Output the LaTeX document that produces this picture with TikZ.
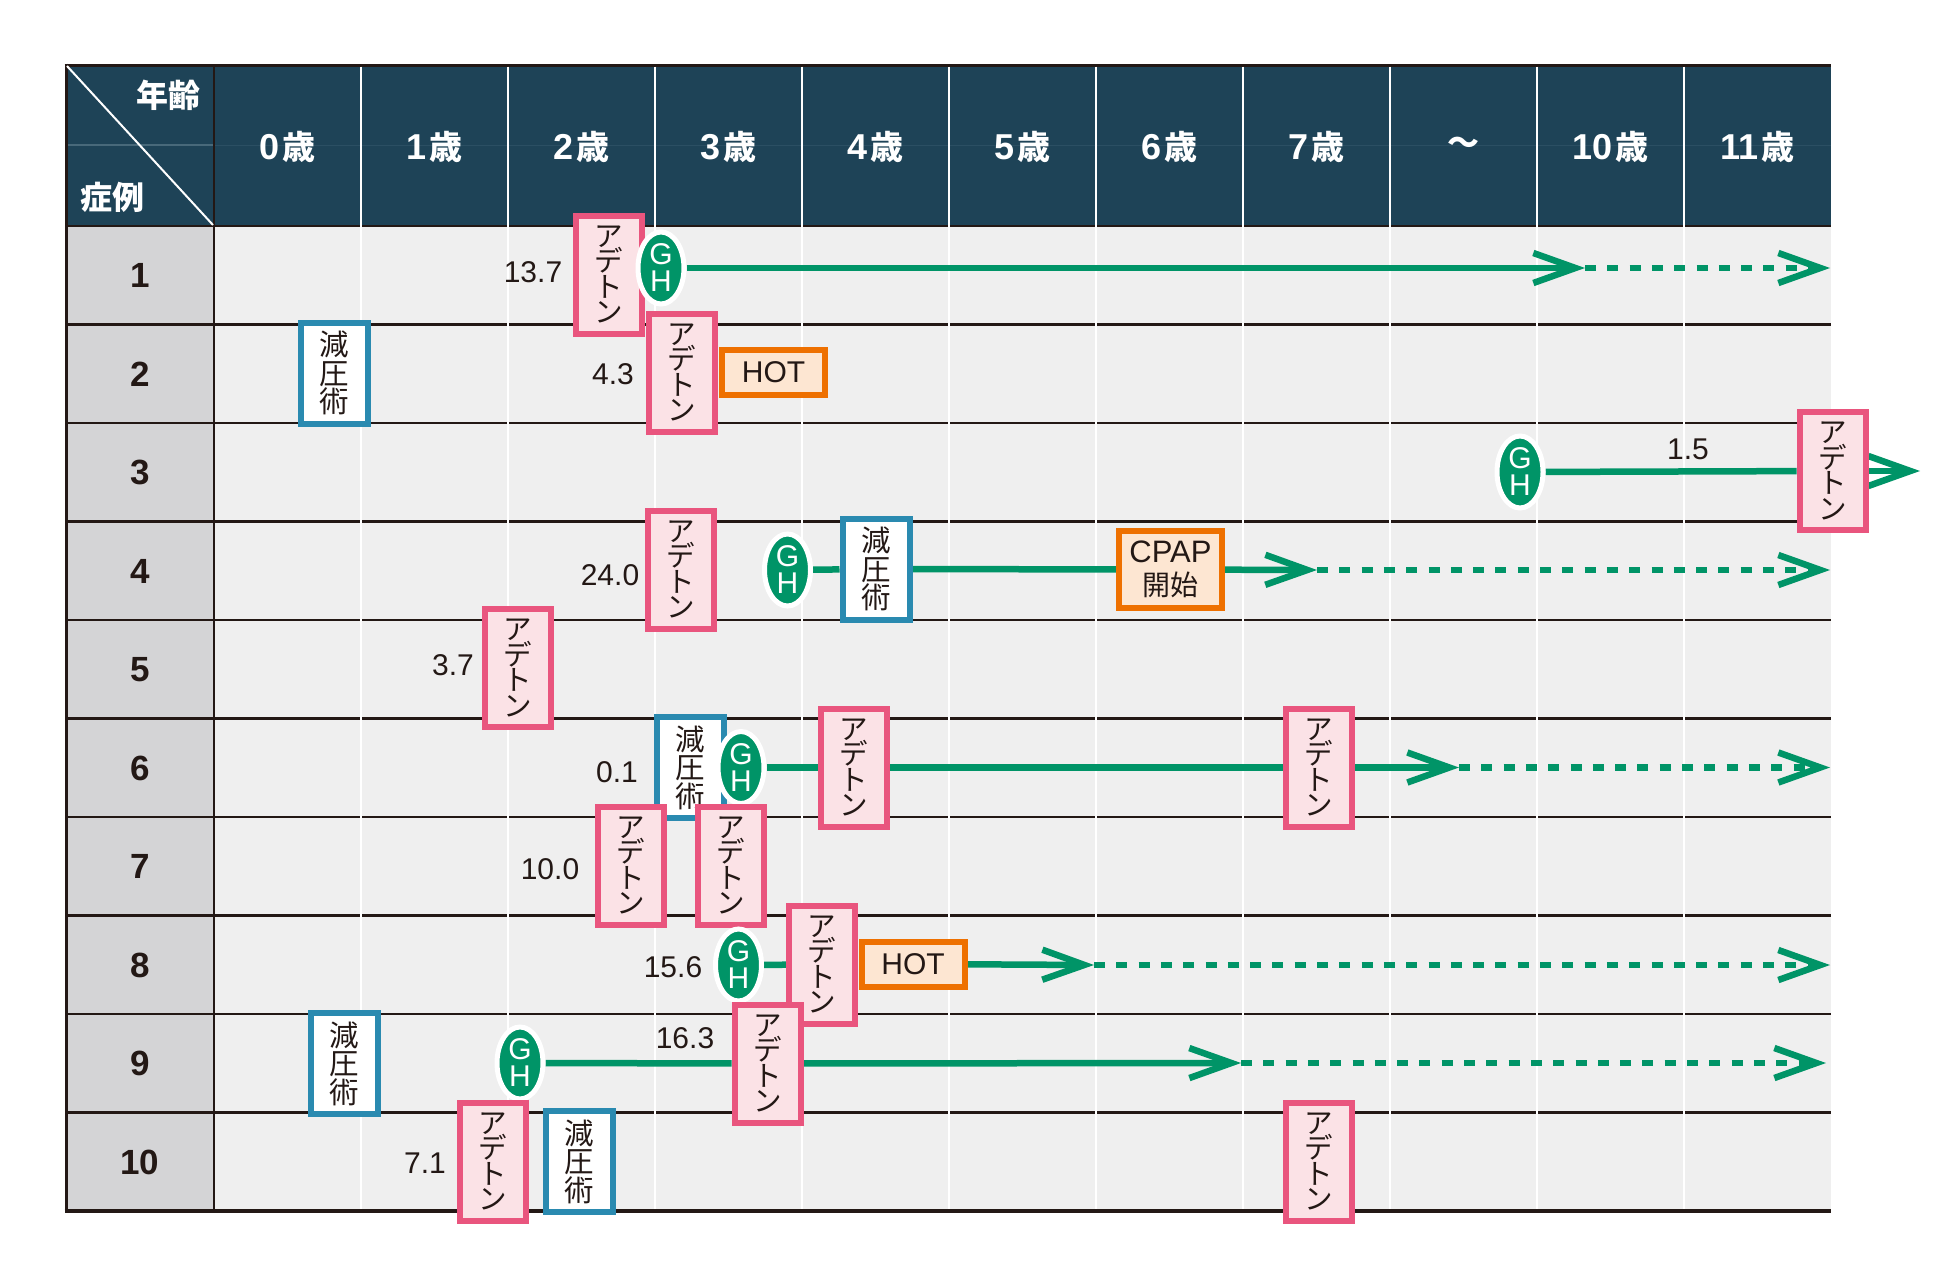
\documentclass[tikz,border=0pt]{standalone}
\usepackage{fontspec}
\setmainfont{Liberation Sans}
\newfontfamily\jp{Noto Sans CJK JP}
\usetikzlibrary{arrows.meta,shapes.geometric}
\definecolor{hdr}{HTML}{1E4357}
\definecolor{hdrline}{HTML}{48697A}
\definecolor{hdrfaint}{HTML}{2B4F63}
\definecolor{colgray}{HTML}{D4D4D6}
\definecolor{cellbg}{HTML}{EFEFEF}
\definecolor{dark}{HTML}{231815}
\definecolor{adpink}{HTML}{E9557E}
\definecolor{adfill}{HTML}{FBE2E6}
\definecolor{gblue}{HTML}{2A8AB0}
\definecolor{orng}{HTML}{EE7000}
\definecolor{orfill}{HTML}{FDE6D2}
\definecolor{ghgreen}{HTML}{009467}
\pgfdeclarelayer{tbl}
\pgfdeclarelayer{conn}
\pgfsetlayers{tbl,conn,main}
\newcommand\sai{{\jp\bfseries\fontsize{33}{33}\selectfont 歳}}
\newcommand\hd[1]{{\fontsize{36}{36}\selectfont\bfseries #1}\hspace{3pt}\sai}
\begin{document}
\begin{tikzpicture}[x=1pt,y=-1pt,
  pinkbox/.style={draw=adpink, fill=adfill, line width=6pt, minimum width=66pt, minimum height=118pt, inner sep=0pt, align=center, text=dark, font=\jp\fontsize{28.5}{25.5}\selectfont},
  bluebox/.style={draw=gblue, fill=white, line width=6pt, minimum width=67pt, minimum height=101pt, inner sep=0pt, align=center, text=dark, font=\jp\fontsize{29.5}{28.5}\selectfont},
  hotbox/.style={draw=orng, fill=orfill, line width=6pt, minimum width=103pt, minimum height=45pt, inner sep=0pt, text=dark, font=\fontsize{30}{30}\selectfont},
  cpapbox/.style={draw=orng, fill=orfill, line width=6pt, minimum width=103pt, minimum height=77pt, inner sep=0pt, align=center, text=dark, font=\fontsize{31}{33}\selectfont},
  gh/.style={ellipse, draw=white, fill=ghgreen, line width=5pt, minimum width=46pt, minimum height=72pt, inner sep=0pt, align=center, text=white, font=\fontsize{30}{27}\selectfont},
  num/.style={inner sep=0pt, text=dark, font=\fontsize{30}{30}\selectfont},
  rowlab/.style={inner sep=0pt, text=dark, font=\fontsize{35}{35}\selectfont\bfseries, anchor=base},
  collab/.style={inner sep=0pt, text=white, anchor=base},
  cornerlab/.style={inner sep=0pt, text=white, font=\jp\bfseries\fontsize{32}{32}\selectfont},
  gline/.style={draw=ghgreen, line width=6.5pt},
  garrow/.style={draw=ghgreen, line width=6.5pt, -{Straight Barb[length=42pt,width=30pt,line join=miter,line cap=butt]}},
  gdash/.style={garrow, dash pattern=on 11pt off 11.3pt}
]
\useasboundingbox (0,0) rectangle (1960,1277);
\begin{pgfonlayer}{tbl}
\fill[white] (0,0) rectangle (1960,1277);
\fill[hdr] (66,65) rectangle (1831,226);
\fill[colgray] (66,226) rectangle (214,1211);
\fill[cellbg] (214,226) rectangle (1831,1211);
\draw[hdrline, line width=1.2pt] (66,145) -- (214,145);
\draw[hdrfaint, line width=1pt] (214,145) -- (1831,145);
\foreach \y in {324.5,423,521.5,620,718.5,817,915.5,1014,1112.5}
  \draw[dark, line width=2.8pt] (66,\y) -- (1831,\y);
\draw[dark, line width=3pt] (64.5,65) -- (1831,65);
\draw[dark, line width=2.8pt] (66,226) -- (1831,226);
\draw[dark, line width=4pt] (64.5,1211) -- (1831,1211);
\draw[dark, line width=3pt] (66,63.5) -- (66,1213);
\draw[dark, line width=2.8pt] (214,65) -- (214,1211);
\foreach \x in {361,508,...,1684}
  \draw[white, line width=2pt] (\x,66.5) -- (\x,1209);
\draw[white, line width=2pt] (67,66) -- (213,225);
\end{pgfonlayer}

% header labels
\node[cornerlab] (age) at (168,95) {年齢};
\node[cornerlab] (case) at (112,197) {症例};
\node[collab] (h0) at (287.5,159) {\hd{0}};
\node[collab] (h1) at (434.5,159) {\hd{1}};
\node[collab] (h2) at (581.5,159) {\hd{2}};
\node[collab] (h3) at (728.5,159) {\hd{3}};
\node[collab] (h4) at (875.5,159) {\hd{4}};
\node[collab] (h5) at (1022.5,159) {\hd{5}};
\node[collab] (h6) at (1169.5,159) {\hd{6}};
\node[collab] (h7) at (1316.5,159) {\hd{7}};
\node[cornerlab] (h8) at (1463.5,146) {〜};
\node[collab] (h10) at (1610.5,159) {\hd{10}};
\node[collab] (h11) at (1757.5,159) {\hd{11}};

% row labels
\node[rowlab] (r1) at (140,287.75) {1};
\node[rowlab] (r2) at (140,386.25) {2};
\node[rowlab] (r3) at (140,484.75) {3};
\node[rowlab] (r4) at (140,583.25) {4};
\node[rowlab] (r5) at (140,681.75) {5};
\node[rowlab] (r6) at (140,780.25) {6};
\node[rowlab] (r7) at (140,878.75) {7};
\node[rowlab] (r8) at (140,977.25) {8};
\node[rowlab] (r9) at (140,1075.75) {9};
\node[rowlab] (r10) at (140,1174.25) {10};

% row 1
\node[num] (n1) at (533,272) {13.7};
\node[pinkbox] (pk1) at (608.5,274.5) {ア\\デ\\ト\\ン};
\node[gh] (gh1) at (661,268) {G\\H};
\coordinate (t1) at (1585,268);
\coordinate (e1) at (1830,268);

% row 2
\node[bluebox] (bl2) at (334,373) {減\\圧\\術};
\node[num] (n2) at (613,374) {4.3};
\node[pinkbox] (pk2) at (681.5,372.5) {ア\\デ\\ト\\ン};
\node[hotbox] (hot2) at (773.5,372.5) {HOT};

% row 3
\node[gh] (gh3) at (1520,472) {G\\H};
\node[num] (n3) at (1688,449) {1.5};
\node[pinkbox] (pk3) at (1832.5,471) {ア\\デ\\ト\\ン};
\coordinate (t3) at (1920,471);

% row 4
\node[num] (n4) at (610,575) {24.0};
\node[pinkbox] (pk4) at (681,569.5) {ア\\デ\\ト\\ン};
\node[gh] (gh4) at (787.5,570) {G\\H};
\node[bluebox] (bl4) at (876,569) {減\\圧\\術};
\node[cpapbox] (cp4) at (1170.5,569.5) {CPAP\\{\jp\fontsize{28}{28}\selectfont 開始}};
\coordinate (t4) at (1317,570);
\coordinate (e4) at (1830,570);

% row 5
\node[num] (n5) at (453,665) {3.7};
\node[pinkbox] (pk5) at (518,668) {ア\\デ\\ト\\ン};

% row 6
\node[num] (n6) at (617,772) {0.1};
\node[bluebox] (bl6) at (690.5,767.5) {減\\圧\\術};
\node[gh] (gh6) at (741,767.5) {G\\H};
\node[pinkbox] (pk6a) at (853.5,767.5) {ア\\デ\\ト\\ン};
\node[pinkbox] (pk6b) at (1319,767.5) {ア\\デ\\ト\\ン};
\coordinate (t6) at (1459,767.5);
\coordinate (e6) at (1830,767.5);

% row 7
\node[num] (n7) at (550,869) {10.0};
\node[pinkbox] (pk7a) at (630.5,865.5) {ア\\デ\\ト\\ン};
\node[pinkbox] (pk7b) at (730.5,865.5) {ア\\デ\\ト\\ン};

% row 8
\node[num] (n8) at (673,967) {15.6};
\node[gh] (gh8) at (738.5,965) {G\\H};
\node[pinkbox] (pk8) at (822,964.5) {ア\\デ\\ト\\ン};
\node[hotbox] (hot8) at (913,964) {HOT};
\coordinate (t8) at (1094,965);
\coordinate (e8) at (1830,965);

% row 9
\node[bluebox] (bl9) at (344.5,1063.5) {減\\圧\\術};
\node[gh] (gh9) at (520,1063) {G\\H};
\node[num] (n9) at (685,1038) {16.3};
\node[pinkbox] (pk9) at (767.5,1063.5) {ア\\デ\\ト\\ン};
\coordinate (t9) at (1241,1063);
\coordinate (e9) at (1826,1063);

% row 10
\node[num] (n10) at (425,1163) {7.1};
\node[pinkbox] (pk10a) at (493,1161.5) {ア\\デ\\ト\\ン};
\node[bluebox] (bl10) at (579,1161.5) {減\\圧\\術};
\node[pinkbox] (pk10b) at (1319,1161.5) {ア\\デ\\ト\\ン};

\begin{pgfonlayer}{conn}
\draw[garrow] (gh1) -- (t1);
\draw[gdash] (t1) -- (e1);
\draw[gline] (gh3) -- (pk3);
\draw[garrow] (pk3) -- (t3);
\draw[gline] (gh4) -- (bl4);
\draw[gline] (bl4) -- (cp4);
\draw[garrow] (cp4) -- (t4);
\draw[gdash] (t4) -- (e4);
\draw[gline] (gh6) -- (pk6a);
\draw[gline] (pk6a) -- (pk6b);
\draw[garrow] (pk6b) -- (t6);
\draw[gdash] (t6) -- (e6);
\draw[gline] (gh8) -- (pk8);
\draw[garrow] (hot8) -- (t8);
\draw[gdash] (t8) -- (e8);
\draw[gline] (gh9) -- (pk9);
\draw[garrow] (pk9) -- (t9);
\draw[gdash] (t9) -- (e9);
\end{pgfonlayer}
\end{tikzpicture}
\end{document}
